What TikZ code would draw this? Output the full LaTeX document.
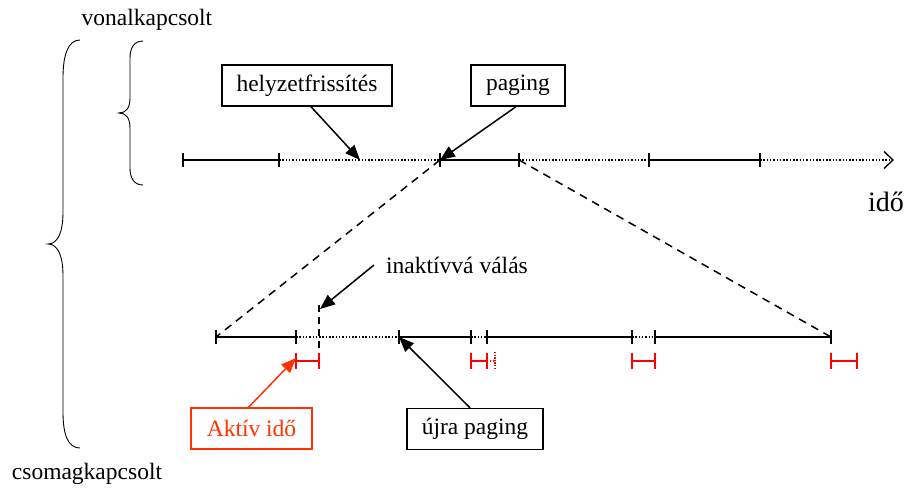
\documentclass[tikz,border=0pt]{standalone}
\usepackage{fontspec}
\setmainfont{Liberation Serif}
\usetikzlibrary{arrows.meta}
\definecolor{aktiv}{RGB}{255,51,0}
\definecolor{aktivbar}{RGB}{255,0,0}
\begin{document}
\begin{tikzpicture}[x=1pt,y=-1pt,
  font=\fontsize{23.5}{28}\selectfont,
  axis/.style={line width=1.6pt},
  gap/.style={line width=1.6pt, dash pattern=on 1.5pt off 1.8pt},
  link/.style={line width=1.5pt, dash pattern=on 8pt off 6pt},
  pointer/.style={line width=1.5pt, -{Triangle[length=15pt,width=12pt]}},
  labelbox/.style={draw, line width=1.4pt, minimum height=41pt, inner sep=0pt},
  brace/.style={line width=0.9pt}
]
\useasboundingbox (0,0) rectangle (911,490);

% braces and their labels
\node (vonal) at (147,20) {vonalkapcsolt};
\node (csomag) at (87,474) {csomagkapcsolt};
\draw[brace] (143,41) .. controls (134,41) and (130,48) .. (130,58) -- (130,98)
  .. controls (130,108) and (126,113) .. (119,113)
  .. controls (126,113) and (130,118) .. (130,128) -- (130,168)
  .. controls (130,178) and (134,185) .. (143,185);
\draw[brace] (80,40) .. controls (68,40) and (63,55) .. (63,78) -- (63,212)
  .. controls (63,232) and (58,244) .. (48,244)
  .. controls (58,244) and (63,256) .. (63,276) -- (63,412)
  .. controls (63,435) and (68,448) .. (80,448);

% upper time axis
\foreach \n/\x in {1/183,2/279,3/440,4/519,5/649,6/760}
  \coordinate (t\n) at (\x,160);
\coordinate (tend) at (894,160);
\coordinate (hit) at (360,160);
\draw[axis] (t1) -- (t2);
\draw[axis] (t3) -- (t4);
\draw[axis] (t5) -- (t6);
\draw[gap] (t2) -- (t3);
\draw[gap] (t4) -- (t5);
\draw[gap, -{Straight Barb[length=9pt,width=17pt,line width=1.4pt]}] (t6) -- (tend);
\foreach \n in {1,...,6}
  \draw[axis] ([yshift=7pt]t\n) -- ([yshift=-7pt]t\n);
\node[font=\fontsize{28}{32}\selectfont] (ido) at (886,202) {idő};

% lower time axis (zoomed part)
\foreach \n/\x in {1/216,2/296,3/399,4/471,5/487,6/632,7/655,8/831}
  \coordinate (b\n) at (\x,337);
\draw[axis] (b1) -- (b2);
\draw[axis] (b3) -- (b4);
\draw[axis] (b5) -- (b6);
\draw[axis] (b7) -- (b8);
\draw[gap] (b2) -- (b3);
\draw[gap] (b4) -- (b5);
\draw[gap] (b6) -- (b7);
\foreach \n in {1,...,8}
  \draw[axis] ([yshift=7pt]b\n) -- ([yshift=-7pt]b\n);

% inactivity marker
\coordinate (ia) at (319,305);
\coordinate (ib) at (319,369);
\draw[line width=2pt, dash pattern=on 7pt off 5pt] (ia) -- (ib);

% zoom guides
\draw[link] (t3) -- (b1);
\draw[link] (t4) -- (b8);

% active periods
\foreach \a/\b in {296/319,471/487,632/655,831/857}{
  \draw[aktivbar, line width=1.6pt] (\a,361) -- (\b,361);
  \draw[aktivbar, line width=1.6pt] (\a,353) -- (\a,369);
  \draw[aktivbar, line width=1.6pt] (\b,353) -- (\b,369);
}
\draw[aktivbar, line width=1.3pt, dash pattern=on 1.3pt off 1.5pt] (487,361) -- (495,361);
\draw[aktivbar, line width=1.5pt, dash pattern=on 1.3pt off 1.3pt] (495,352) -- (495,370);

% labels
\node[labelbox, minimum width=170pt] (helyzet) at (307,85.5) {helyzetfrissítés};
\node[labelbox, minimum width=94pt] (paging) at (518,85.5) {paging};
\node[labelbox, minimum width=136pt] (ujra) at (475,429) {újra paging};
\node[labelbox, draw=aktiv, text=aktiv, minimum width=121pt] (aktivl) at (251.5,428.5) {Aktív idő};
\node[anchor=west, inner sep=0pt] (inaktiv) at (386,265) {inaktívvá válás};
\coordinate (iatip) at (320,309);

\draw[pointer] ([xshift=4pt]helyzet.south) -- (hit);
\draw[pointer] ([xshift=-2pt]paging.south) -- (t3);
\draw[pointer] ([xshift=-12pt]inaktiv.west) -- (iatip);
\draw[pointer] ([xshift=-5pt]ujra.north) -- (b3);
\draw[pointer, draw=aktiv, fill=aktiv] ([xshift=-3pt]aktivl.north) -- (b2 |- 0,358);
\end{tikzpicture}
\end{document}
